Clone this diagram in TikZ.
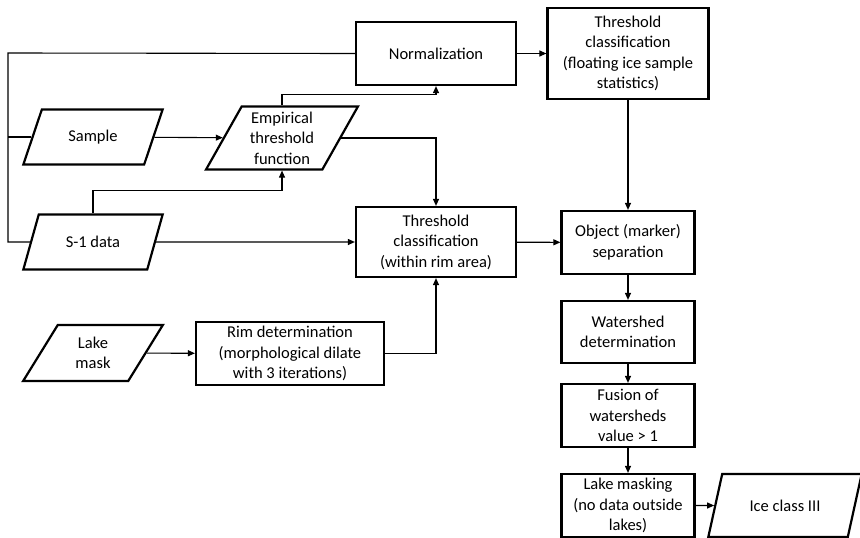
\documentclass[tikz,border=0pt]{standalone}
\usepackage{fontspec}
\setmainfont{Carlito}
\usetikzlibrary{shapes.geometric, arrows.meta}

\tikzset{
  procbox/.style = {draw, line width=2.2pt, align=center, inner sep=2pt,
                    font=\fontsize{16.5}{20.5}\selectfont},
  databox/.style = {procbox, trapezium, trapezium stretches=true,
                    trapezium left angle=62, trapezium right angle=118},
  link/.style    = {line width=1.1pt, -{Triangle[length=7pt,width=6pt]}},
  plain/.style   = {line width=1.1pt}
}

\begin{document}
\begin{tikzpicture}[x=1pt, y=-1pt]
   \useasboundingbox (0,0) rectangle (860,538);

   % inputs
   \node[databox, minimum width=140, minimum height=55]  (sample) at (93,137)  {Sample};
   \node[databox, minimum width=152, minimum height=63]  (emp)    at (282,138) {Empirical\\threshold\\function};
   \node[databox, minimum width=140, minimum height=55]  (s1)     at (93,242)  {S-1 data};
   \node[databox, minimum width=140, minimum height=56]  (lake)   at (93,353)  {Lake\\mask};

   % processing
   \node[procbox, minimum width=160, minimum height=63]  (norm)   at (436,53.5)  {Normalization};
   \node[procbox, minimum width=161, minimum height=91]  (thr)    at (628,53.5)  {Threshold\\classification\\(floating ice sample\\statistics)};
   \node[procbox, minimum width=160, minimum height=70]  (thrrim) at (436,242)   {Threshold\\classification\\(within rim area)};
   \node[procbox, minimum width=188, minimum height=63]  (rim)    at (290,353.5) {Rim determination\\(morphological dilate\\with 3 iterations)};
   \node[procbox, minimum width=133, minimum height=63]  (obj)    at (628,242.5) {Object (marker)\\separation};
   \node[procbox, minimum width=133, minimum height=62]  (water)  at (628,332)   {Watershed\\determination};
   \node[procbox, minimum width=133, minimum height=63]  (fusion) at (628,415.5) {Fusion of\\watersheds\\value > 1};
   \node[procbox, minimum width=133, minimum height=63]  (lmask)  at (628,505.5) {Lake masking\\(no data outside\\lakes)};
   \node[databox, minimum width=154, minimum height=63]  (ice)    at (785,505.5) {Ice class III};

   \coordinate (corner) at (8,53);

   \draw[plain] (s1.west) -| (corner) -- (norm.west);
   \draw[plain] (sample.west) -- (sample.west -| corner);
   \draw[link] (sample) -- (emp);
   \draw[link] (emp.north) -- ++(0,-11) -| (norm.south);
   \draw[link] (emp.east) -| (thrrim.north);
   \draw[link] (s1.north) -- ++(0,-23) -| (emp.south);
   \draw[link] (s1) -- (thrrim);
   \draw[link] (norm) -- (thr);
   \draw[link] (thr) -- (obj);
   \draw[link] (thrrim) -- (obj);
   \draw[link] (lake) -- (rim);
   \draw[link] (rim.east) -| (thrrim.south);
   \draw[link] (obj) -- (water);
   \draw[link] (water) -- (fusion);
   \draw[link] (fusion) -- (lmask);
   \draw[link] (lmask) -- (ice);
\end{tikzpicture}
\end{document}
